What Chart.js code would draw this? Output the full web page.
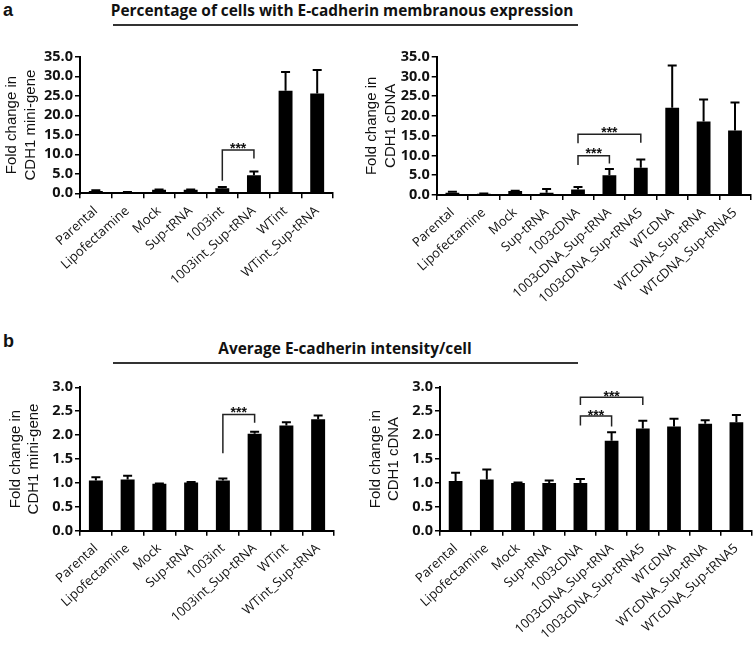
<!DOCTYPE html>
<html>
<head>
<meta charset="utf-8">
<script src="https://cdn.jsdelivr.net/npm/chart.js@4.4.0/dist/chart.umd.min.js"></script>
<style>
  body { margin: 0; background: #fff; width: 753px; height: 652px; position: relative; overflow: hidden; }
  canvas { position: absolute; }
  .panel { position: absolute; font-family: 'Liberation Sans', Arial, sans-serif; font-weight: bold; font-size: 18px; line-height: 18px; color: #111; }
  .title { position: absolute; left: 100px; width: 490px; text-align: center; font-family: 'Open Sans', sans-serif; font-weight: bold; font-size: 15.4px; line-height: 15px; white-space: nowrap; color: #111; }
  .rule { position: absolute; left: 113px; width: 465px; height: 2px; background: #333; }
</style>
</head>
<body>
<div class="panel" style="left:3px; top:1px;">a</div>
<div class="title" style="top:3px; left:97px;">Percentage of cells with E-cadherin membranous expression</div>
<div class="rule" style="top:24px;"></div>
<div class="panel" style="left:3px; top:332px;">b</div>
<div class="title" style="top:341px;">Average E-cadherin intensity/cell</div>
<div class="rule" style="top:362px;"></div>

<canvas id="pctMiniChart" width="360" height="300" style="left:0px; top:40px;"></canvas>
<canvas id="pctCdnaChart" width="393" height="300" style="left:360px; top:40px;"></canvas>
<canvas id="intMiniChart" width="360" height="282" style="left:0px; top:370px;"></canvas>
<canvas id="intCdnaChart" width="393" height="282" style="left:360px; top:370px;"></canvas>

<script>
// categories
const catsMini = ['Parental', 'Lipofectamine', 'Mock', 'Sup-tRNA', '1003int', '1003int_Sup-tRNA', 'WTint', 'WTint_Sup-tRNA'];
const catsCdna = ['Parental', 'Lipofectamine', 'Mock', 'Sup-tRNA', '1003cDNA', '1003cDNA_Sup-tRNA', '1003cDNA_Sup-tRNA5', 'WTcDNA', 'WTcDNA_Sup-tRNA', 'WTcDNA_Sup-tRNA5'];
const yTitleMini = ['Fold change in', 'CDH1 mini-gene'];
const yTitleCdna = ['Fold change in', 'CDH1 cDNA'];

// a: percentage of cells with membranous expression (fold change)
const pctMini = [0.6, 0.3, 0.9, 0.9, 1.3, 4.6, 26.3, 25.6];
const pctMiniErr = [0.2, 0.05, 0.1, 0.1, 0.3, 1.0, 4.8, 6.0];
const pctCdna = [0.6, 0.3, 1.0, 0.6, 1.4, 5.0, 6.9, 22.1, 18.6, 16.3];
const pctCdnaErr = [0.25, 0.05, 0.1, 0.9, 0.6, 1.6, 2.1, 10.7, 5.6, 7.1];

// b: average intensity per cell (fold change)
const intMini = [1.05, 1.07, 0.98, 1.01, 1.05, 2.03, 2.20, 2.33];
const intMiniErr = [0.07, 0.08, 0.01, 0.01, 0.04, 0.04, 0.07, 0.08];
const intCdna = [1.04, 1.07, 1.00, 1.00, 1.00, 1.88, 2.14, 2.18, 2.24, 2.27];
const intCdnaErr = [0.17, 0.21, 0.01, 0.05, 0.08, 0.18, 0.16, 0.16, 0.07, 0.15];

// significance brackets (category indices, values in axis units)
const sigPctMini = [{ from: 4, to: 5, top: 11.1, left: 3.2, right: 8.9, stars: 12.5 }];
const sigPctCdna = [
    { from: 4, to: 5, top: 9.95, left: 7.6, right: 8.0, stars: 11.4 },
    { from: 4, to: 6, top: 15.35, left: 13.1, right: 13.2, stars: 16.6 }
];
const sigIntMini = [{ from: 4, to: 5, top: 2.43, left: 1.62, right: 2.26, stars: 2.54 }];
const sigIntCdna = [
    { from: 4, to: 5, top: 2.40, left: 2.20, right: 2.18, stars: 2.48 },
    { from: 4, to: 6, top: 2.79, left: 2.63, right: 2.63, stars: 2.89 }
];

/**
 * Error bars (upper only) and significance brackets
 */
function overlay(values, errors, brackets) {
    return {
        id: 'overlay',
        afterDatasetsDraw(chart) {
            const ctx = chart.ctx;
            const xs = chart.scales.x;
            const ys = chart.scales.y;
            const bars = chart.getDatasetMeta(0).data;

            ctx.save();
            ctx.strokeStyle = '#000';
            ctx.lineWidth = 2;
            bars.forEach((bar, i) => {
                const top = ys.getPixelForValue(values[i] + errors[i]);
                ctx.beginPath();
                ctx.moveTo(bar.x, bar.y);
                ctx.lineTo(bar.x, top);
                ctx.moveTo(bar.x - 4.5, top);
                ctx.lineTo(bar.x + 4.5, top);
                ctx.stroke();
            });

            ctx.strokeStyle = '#222';
            ctx.fillStyle = '#111';
            ctx.lineWidth = 1.5;
            ctx.font = 'bold 14px "Liberation Sans"';
            ctx.textAlign = 'center';
            ctx.textBaseline = 'alphabetic';
            brackets.forEach(b => {
                const x1 = xs.getPixelForValue(b.from);
                const x2 = xs.getPixelForValue(b.to);
                const yt = ys.getPixelForValue(b.top);
                ctx.beginPath();
                ctx.moveTo(x1, ys.getPixelForValue(b.left));
                ctx.lineTo(x1, yt);
                ctx.lineTo(x2, yt);
                ctx.lineTo(x2, ys.getPixelForValue(b.right));
                ctx.stroke();
                ctx.fillText('***', (x1 + x2) / 2, ys.getPixelForValue(b.stars) + 8);
            });
            ctx.restore();
        }
    };
}

function makeChart(id, cats, values, errors, brackets, yTitle, yMax, step, g) {
    const tickGrid = { display: true, drawOnChartArea: false, drawTicks: true, tickLength: 5, color: '#000', lineWidth: 1.5 };
    return new Chart(document.getElementById(id), {
        type: 'bar',
        data: {
            labels: cats,
            datasets: [{ data: values, backgroundColor: '#000', borderWidth: 0, barPercentage: 0.44, categoryPercentage: 1 }]
        },
        options: {
            responsive: false,
            animation: false,
            devicePixelRatio: 1,
            layout: { padding: g.pad },
            plugins: { legend: { display: false }, tooltip: { enabled: false } },
            scales: {
                x: {
                    grid: tickGrid,
                    border: { color: '#000', width: 2 },
                    ticks: {
                        autoSkip: false, maxRotation: 42, minRotation: 42, padding: 5, color: '#111',
                        font: { family: 'Open Sans', size: 13 }
                    },
                    afterFit: s => { s.height = g.xHeight; s.paddingLeft = 0; s.paddingRight = 0; }
                },
                y: {
                    min: 0, max: yMax,
                    grid: tickGrid,
                    border: { color: '#000', width: 2 },
                    ticks: {
                        autoSkip: false, stepSize: step, padding: 2, color: '#111',
                        font: { family: 'Open Sans', size: 14.5, weight: 'bold' },
                        callback: v => v.toFixed(1)
                    },
                    title: {
                        display: true, text: yTitle, color: '#111',
                        font: { family: 'Liberation Sans', size: 15, lineHeight: 1.25 },
                        padding: { top: g.titlePad, bottom: 0 }
                    },
                    afterFit: s => { s.width = g.yWidth; s.paddingTop = 0; s.paddingBottom = 0; }
                }
            }
        },
        plugins: [overlay(values, errors, brackets)]
    });
}

makeChart('pctMiniChart', catsMini, pctMini, pctMiniErr, sigPctMini, yTitleMini, 35, 5,
    { pad: { left: 0, top: 16.8, right: 27, bottom: 0 }, yWidth: 80, xHeight: 146.7, titlePad: 2.6 });
makeChart('pctCdnaChart', catsCdna, pctCdna, pctCdnaErr, sigPctCdna, yTitleCdna, 35, 5,
    { pad: { left: 0, top: 16.7, right: 2.3, bottom: 0 }, yWidth: 76.7, xHeight: 145, titlePad: 2.6 });
makeChart('intMiniChart', catsMini, intMini, intMiniErr, sigIntMini, yTitleMini, 3, 0.5,
    { pad: { left: 0, top: 17.3, right: 26, bottom: 0 }, yWidth: 80, xHeight: 121.3, titlePad: 6.1 });
makeChart('intCdnaChart', catsCdna, intCdna, intCdnaErr, sigIntCdna, yTitleCdna, 3, 0.5,
    { pad: { left: 0, top: 17.3, right: 1, bottom: 0 }, yWidth: 80, xHeight: 121.3, titlePad: 6.1 });
</script>
</body>
</html>
